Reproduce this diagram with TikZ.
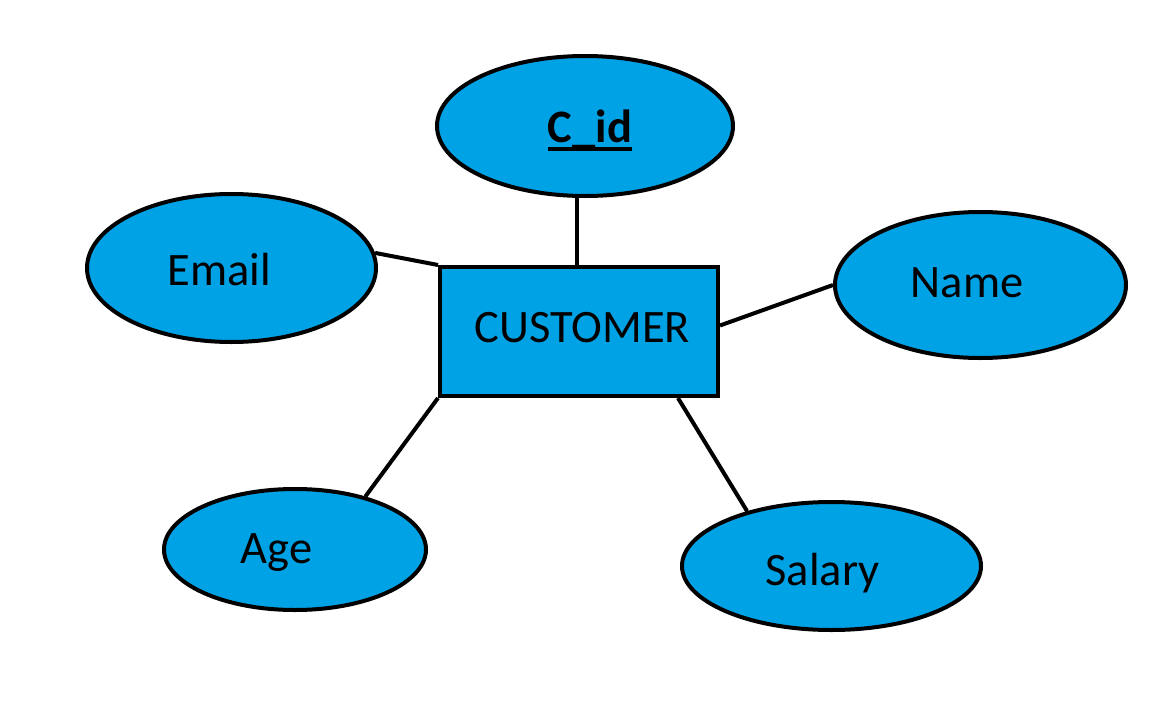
\documentclass[tikz,border=0pt]{standalone}
\usepackage{fontspec}
\setmainfont{Carlito}
\usetikzlibrary{shapes.geometric,calc}
\definecolor{erblue}{RGB}{0,162,230}
\newcommand{\keyul}[1]{\setbox0=\hbox{#1}\rlap{\rule[-8.5pt]{\wd0}{3.5pt}}\box0}
\tikzset{
  attr/.style={ellipse,draw=black,fill=erblue,line width=4pt,inner sep=0pt},
  ent/.style={rectangle,draw=black,fill=erblue,line width=4pt,inner sep=0pt},
  lbl/.style={font=\fontsize{46.5}{52}\selectfont,text=black,anchor=base,inner sep=0pt},
  conn/.style={line width=4pt,draw=black}
}
\begin{document}
\begin{tikzpicture}[x=1pt,y=-1pt]
\useasboundingbox (0,0) rectangle (1152,720);
\node[ent,minimum width=278pt,minimum height=129pt] (cust) at (579,331.5) {};
\node[attr,minimum width=296pt,minimum height=140pt] (cid) at (585,126) {};
\node[attr,minimum width=289pt,minimum height=148pt] (email) at (231.5,268) {};
\node[attr,minimum width=291pt,minimum height=146pt] (name) at (980.5,285) {};
\node[attr,minimum width=262pt,minimum height=121pt] (age) at (295,549.5) {};
\node[attr,minimum width=299pt,minimum height=128pt] (salary) at (831.5,566) {};
\node[lbl] (custtxt) at (582.5,342) {CUSTOMER};
\node[lbl] (cidtxt) at (590,142) {\keyul{\textbf{C\_id}}};
\node[lbl] (emailtxt) at (219.5,285) {Email};
\node[lbl] (nametxt) at (967,297) {Name};
\node[lbl] (agetxt) at (276.5,563) {Age};
\node[lbl] (salarytxt) at (822.5,585) {Salary};
\coordinate (cidfoot) at ($(cust.north)+(-2pt,0)$);
\coordinate (nameend) at ($(cust.east)+(0,6pt)$);
\coordinate (salend) at ($(cust.south)+(99pt,0)$);
\draw[conn] (cidfoot |- cid.south) -- (cidfoot);
\draw[conn] (email.6) -- (cust.north west);
\draw[conn] (name.west) -- (nameend);
\draw[conn] (age.37) -- (cust.south west);
\draw[conn] (salary.147) -- (salend);
\end{tikzpicture}
\end{document}
